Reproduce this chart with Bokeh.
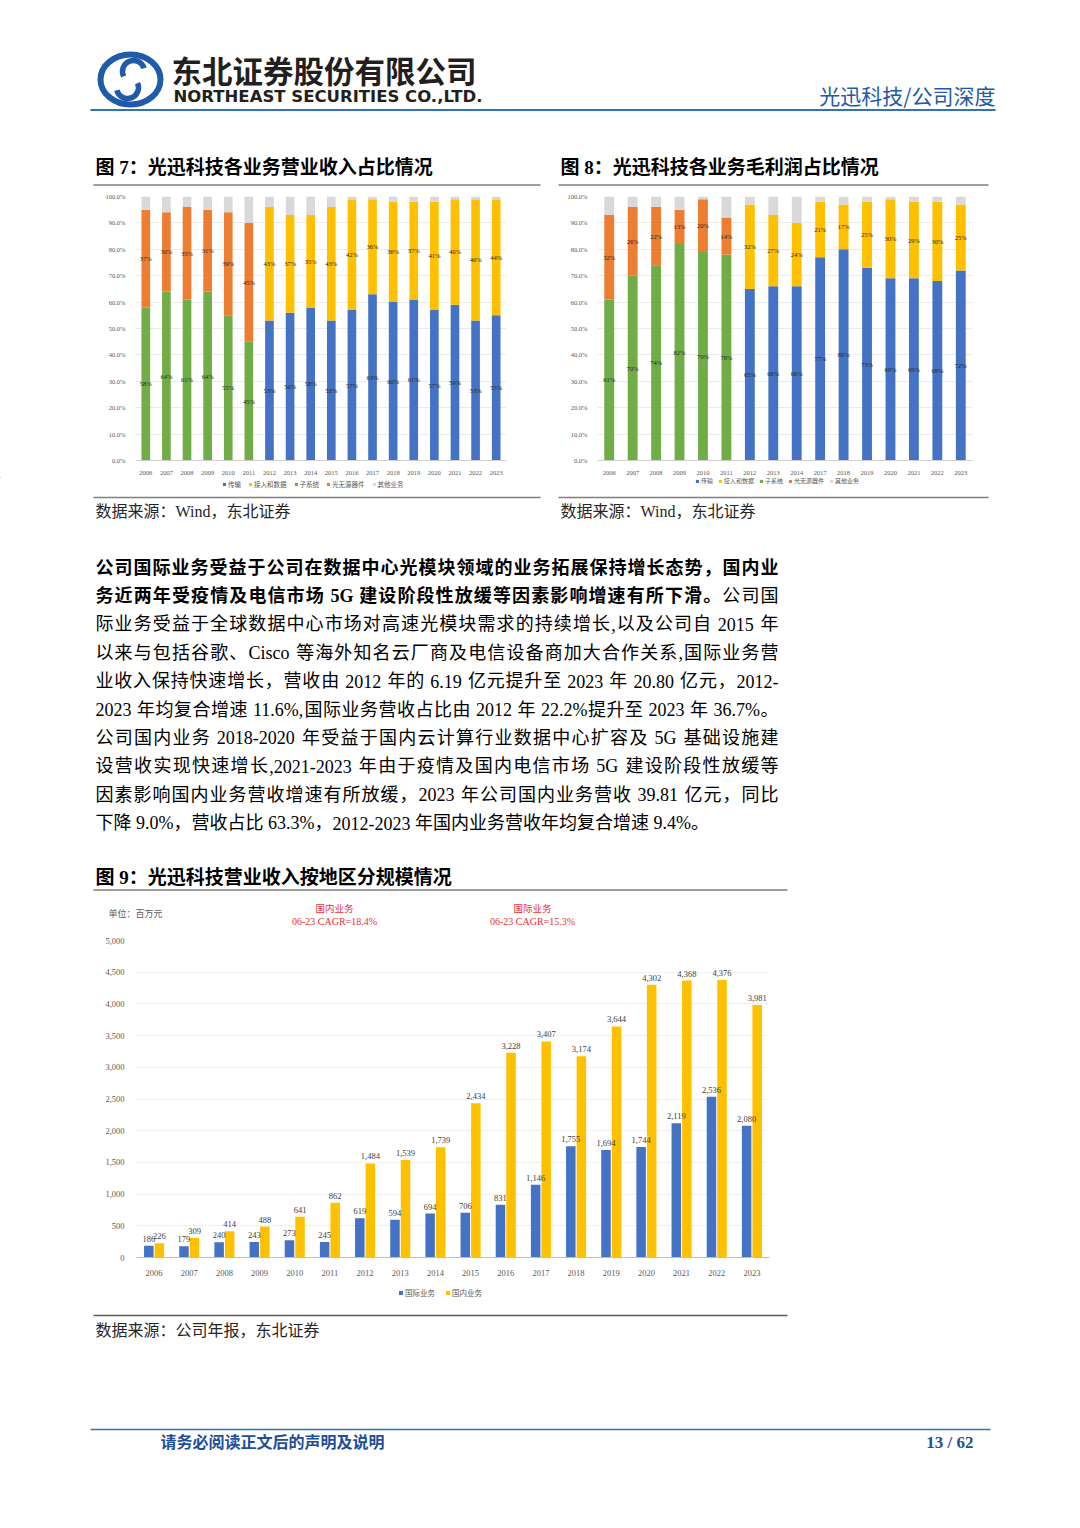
from bokeh.plotting import figure
from bokeh.models import (Range1d, FactorRange, PrintfTickFormatter, NumeralTickFormatter,
                          Legend, LegendItem, ColumnDataSource, FixedTicker, Spacer)
from bokeh.layouts import column, row
from bokeh.transform import dodge
from bokeh.core.properties import value
from bokeh.embed import file_html
from bokeh.resources import INLINE

# ---------------- data ----------------
# Figure 7: revenue share by business (%)
years7 = ["2006", "2007", "2008", "2009", "2010", "2011", "2012", "2013", "2014",
          "2015", "2016", "2017", "2018", "2019", "2020", "2021", "2022", "2023"]
rev_trans = [0, 0, 0, 0, 0, 0, 53, 56, 58, 53, 57, 63, 60, 61, 57, 59, 53, 55]
rev_sub = [58, 64, 61, 64, 55, 45, 0, 0, 0, 0, 0, 0, 0, 0, 0, 0, 0, 0]
rev_access = [0, 0, 0, 0, 0, 0, 43, 37, 35, 43, 42, 36, 38, 37, 41, 40, 46, 44]
rev_passive = [37, 30, 35, 31, 39, 45, 0, 0, 0, 0, 0, 0, 0, 0, 0, 0, 0, 0]
rev_other = [5, 6, 4, 5, 6, 10, 4, 7, 7, 4, 1, 1, 2, 2, 2, 1, 1, 1]

# Figure 8: gross profit share by business (%)
years8 = ["2006", "2007", "2008", "2009", "2010", "2011", "2012", "2013", "2014",
          "2017", "2018", "2019", "2020", "2021", "2022", "2023"]
gp_trans = [0, 0, 0, 0, 0, 0, 65, 66, 66, 77, 80, 73, 69, 69, 68, 72]
gp_sub = [61, 70, 74, 82, 79, 78, 0, 0, 0, 0, 0, 0, 0, 0, 0, 0]
gp_access = [0, 0, 0, 0, 0, 0, 32, 27, 24, 21, 17, 25, 30, 29, 30, 25]
gp_passive = [32, 26, 22, 13, 20, 14, 0, 0, 0, 0, 0, 0, 0, 0, 0, 0]
gp_other = [7, 4, 4, 5, 1, 8, 3, 7, 10, 2, 3, 2, 1, 2, 2, 3]

share_names = ["传输", "子系统", "接入和数据", "光无源器件", "其他业务"]
legend_order = ["传输", "接入和数据", "子系统", "光无源器件", "其他业务"]
pct_ticks = [0, 10, 20, 30, 40, 50, 60, 70, 80, 90, 100]

# Figure 9: revenue by region (RMB mn)
years9 = ["2006", "2007", "2008", "2009", "2010", "2011", "2012", "2013", "2014",
          "2015", "2016", "2017", "2018", "2019", "2020", "2021", "2022", "2023"]
intl = [186, 179, 240, 243, 273, 245, 619, 594, 694, 706, 831, 1146, 1755, 1694, 1744, 2119, 2536, 2080]
dom = [226, 309, 414, 488, 641, 862, 1484, 1539, 1739, 2434, 3228, 3407, 3174, 3644, 4302, 4368, 4376, 3981]
region_names = ["国际业务", "国内业务"]
rev_ticks = [0, 500, 1000, 1500, 2000, 2500, 3000, 3500, 4000, 4500, 5000]

# body text (segments: text, bold)
para_lines = [
    [("公司国际业务受益于公司在数据中心光模块领域的业务拓展保持增长态势，国内业", True)],
    [("务近两年受疫情及电信市场 5G 建设阶段性放缓等因素影响增速有所下滑。", True), ("公司国", False)],
    [("际业务受益于全球数据中心市场对高速光模块需求的持续增长,以及公司自 2015 年", False)],
    [("以来与包括谷歌、Cisco 等海外知名云厂商及电信设备商加大合作关系,国际业务营", False)],
    [("业收入保持快速增长，营收由 2012 年的 6.19 亿元提升至 2023 年 20.80 亿元，2012-", False)],
    [("2023 年均复合增速 11.6%,国际业务营收占比由 2012 年 22.2%提升至 2023 年 36.7%。", False)],
    [("公司国内业务 2018-2020 年受益于国内云计算行业数据中心扩容及 5G 基础设施建", False)],
    [("设营收实现快速增长,2021-2023 年由于疫情及国内电信市场 5G 建设阶段性放缓等", False)],
    [("因素影响国内业务营收增速有所放缓，2023 年公司国内业务营收 39.81 亿元，同比", False)],
    [("下降 9.0%，营收占比 63.3%，2012-2023 年国内业务营收年均复合增速 9.4%。", False)],
]

# ---------------- styles ----------------
SERIF = "Liberation Serif, Noto Sans CJK SC"
CJK = "Noto Sans CJK SC"
BLUE, YELLOW, GREEN, ORANGE, GRAY = "#4472C4", "#FFC000", "#70AD47", "#ED7D31", "#D9D9D9"
share_colors = [BLUE, GREEN, YELLOW, ORANGE, GRAY]
legend_colors = [BLUE, YELLOW, GREEN, ORANGE, GRAY]
HEAD_BLUE = "#1F5BA8"
PAGE_W = 1080

# Times-like advance widths (em) for the Latin characters in the text
LAT_W = {".": 0.25, ",": 0.25, "%": 0.833, "-": 0.333, "C": 0.667, "i": 0.278,
         "s": 0.389, "c": 0.444, "o": 0.5, "G": 0.722}


def strip(y0, y1):
    p = figure(width=PAGE_W, height=y1 - y0, x_range=Range1d(0, PAGE_W), y_range=Range1d(y1, y0),
               output_backend="svg", toolbar_location=None, min_border=0)
    p.axis.visible = False
    p.grid.visible = False
    p.outline_line_color = None
    return p


def txt(p, x, y, s, size, color="#000000", font=SERIF, style="normal", align="left"):
    p.text(x=[x], y=[y], text=[s], text_font=value(font), text_font_size=value(f"{size}px"),
           text_color=color, text_font_style=style, text_align=align, text_baseline="middle")


def hline(p, x0, x1, y, color, w):
    p.segment(x0=[x0], y0=[y], x1=[x1], y1=[y], line_color=color, line_width=w)


def strip_legend(p, names, colors, loc, fsize, gsize, spacing):
    # proxy renderers (off-canvas) that only supply the legend swatches
    rs = [p.vbar(x=[-5000], bottom=[-5000], top=[-5000], width=1, fill_color=c, line_color=None)
          for c in colors]
    items = [LegendItem(label=n, renderers=[r]) for n, r in zip(names, rs)]
    lg = Legend(items=items, orientation="horizontal", location=loc,
                label_text_font=CJK, label_text_font_size=f"{fsize}px", label_text_color="#595959",
                glyph_width=gsize, glyph_height=gsize, label_standoff=2, spacing=spacing,
                padding=0, margin=0, border_line_color=None, background_fill_alpha=0,
                label_height=int(fsize), label_width=0)
    p.add_layout(lg)


def tokens(segments):
    out = []  # (text or None, width_em, bold)
    for text, bold in segments:
        buf = ""
        for ch in text:
            if ord(ch) > 0x2000 or ch == " ":
                if buf:
                    out.append((buf, sum(LAT_W.get(c, 0.5) for c in buf), bold))
                    buf = ""
                out.append((None, 0.25, bold) if ch == " " else (ch, 1.0, bold))
            else:
                buf += ch
        if buf:
            out.append((buf, sum(LAT_W.get(c, 0.5) for c in buf), bold))
    return out


def paragraph(p, lines, x0, x1, y0, lh, fs):
    xs = {True: [], False: []}
    ys = {True: [], False: []}
    ts = {True: [], False: []}
    for k, segs in enumerate(lines):
        tk = tokens(segs)
        natural = sum(w for _, w, _ in tk) * fs
        last = k == len(lines) - 1
        gap = 0 if last else (x1 - x0 - natural) / (len(tk) - 1)
        x = x0
        for t, w, b in tk:
            if t is not None:
                xs[b].append(x)
                ys[b].append(y0 + lh * k)
                ts[b].append(t)
            x += w * fs + gap
    for b in (True, False):
        p.text(x=xs[b], y=ys[b], text=ts[b], text_font=value(SERIF),
               text_font_size=value(f"{fs}px"), text_color="#000000",
               text_font_style="bold" if b else "normal", text_align="left", text_baseline="middle")


def share_chart(years, series, width, bl, br, bt, bb):
    data = {"year": years}
    for n, s in zip(share_names, series):
        data[n] = s
    src = ColumnDataSource(data)
    p = figure(width=width, height=291, x_range=FactorRange(*years), y_range=Range1d(0, 100),
               output_backend="svg", toolbar_location=None,
               min_border_left=bl, min_border_right=br, min_border_top=bt, min_border_bottom=bb)
    p.vbar_stack(share_names, x="year", width=0.42, fill_color=share_colors,
                 line_color=None, source=src)
    # segment labels
    lx, ly, lt = [], [], []
    for i, yr in enumerate(years):
        b = series[0][i] + series[1][i]
        m = series[2][i] + series[3][i]
        lx += [yr, yr]
        ly += [b / 2, b + m / 2]
        lt += [f"{b}%", f"{m}%"]
    p.text(x=lx, y=ly, text=lt, text_font=value(SERIF), text_font_size=value("6.5px"),
           text_color="#262626", text_align="center", text_baseline="middle")
    p.yaxis.ticker = FixedTicker(ticks=pct_ticks)
    p.yaxis.formatter = PrintfTickFormatter(format="%.1f%%")
    p.xgrid.visible = False
    p.ygrid.grid_line_color = "#E3E3E3"
    p.ygrid.grid_line_width = 0.7
    p.yaxis.axis_line_color = None
    p.yaxis.major_tick_line_color = None
    p.yaxis.minor_tick_line_color = None
    p.xaxis.axis_line_color = "#D0D0D0"
    p.xaxis.major_tick_line_color = None
    for ax in (p.xaxis, p.yaxis):
        ax.major_label_text_font = SERIF
        ax.major_label_text_font_size = "6.5px"
        ax.major_label_text_color = "#595959"
        ax.major_label_standoff = 4
    p.outline_line_color = None
    return p


# ---------------- header strip ----------------
sa = strip(0, 186)
sa.ellipse(x=[130], y=[79], width=[60], height=[50], fill_color=None, line_color=HEAD_BLUE, line_width=6)
sa.arc(x=[133], y=[71], radius=11, start_angle=0.3, end_angle=3.6, line_color=HEAD_BLUE, line_width=5.5)
sa.arc(x=[127], y=[87], radius=11, start_angle=3.4, end_angle=6.7, line_color=HEAD_BLUE, line_width=5.5)
txt(sa, 171, 69, "东北证券股份有限公司", 30.5, "#231F20", CJK, "bold")
txt(sa, 173, 95.5, "NORTHEAST SECURITIES CO.,LTD.", 16.5, "#231F20", "DejaVu Sans", "bold")
txt(sa, 995, 94, "光迅科技/公司深度", 21, HEAD_BLUE, CJK, "normal", "right")
hline(sa, 90, 995, 109.5, "#2F75B5", 2)
txt(sa, 95, 167, "图 7：光迅科技各业务营业收入占比情况", 19, "#000000", SERIF, "bold")
txt(sa, 560, 167, "图 8：光迅科技各业务毛利润占比情况", 19, "#000000", SERIF, "bold")
hline(sa, 93, 540, 184.5, "#7F7F7F", 1.5)
hline(sa, 558, 988, 184.5, "#7F7F7F", 1.5)

# ---------------- share charts ----------------
p7 = share_chart(years7, [rev_trans, rev_sub, rev_access, rev_passive, rev_other], 415, 40, 4, 8, 15)
p8 = share_chart(years8, [gp_trans, gp_sub, gp_access, gp_passive, gp_other], 432, 39, 18, 10, 15)

# ---------------- middle strip ----------------
SC0, SC1 = 477, 932
sc = strip(SC0, SC1)
strip_legend(sc, legend_order, legend_colors, (222, SC1 - 488.5), 6.5, 4, 7)
strip_legend(sc, legend_order, legend_colors, (695, SC1 - 485), 6, 4, 5)
hline(sc, 93, 540, 497, "#7F7F7F", 1.5)
hline(sc, 558, 988, 497, "#7F7F7F", 1.5)
txt(sc, 95, 511, "数据来源：Wind，东北证券", 16, "#262626")
txt(sc, 560, 511, "数据来源：Wind，东北证券", 16, "#262626")

paragraph(sc, para_lines, 95, 778, 567, 28.4, 18)

txt(sc, 95, 877, "图 9：光迅科技营业收入按地区分规模情况", 19, "#000000", SERIF, "bold")
hline(sc, 93, 787, 889.5, "#7F7F7F", 1.5)
txt(sc, 108, 913, "单位：百万元", 9, "#595959", CJK)
txt(sc, 334, 907, "国内业务", 9.5, "#E8312F", CJK, "normal", "center")
txt(sc, 334, 921, "06-23 CAGR=18.4%", 10, "#E8312F", SERIF, "normal", "center")
txt(sc, 532, 907, "国际业务", 9.5, "#E8312F", CJK, "normal", "center")
txt(sc, 532, 921, "06-23 CAGR=15.3%", 10, "#E8312F", SERIF, "normal", "center")

# ---------------- region chart ----------------
src9 = ColumnDataSource({"year": years9, "intl": intl, "dom": dom,
                         "intl_t": [f"{v:,}" for v in intl], "dom_t": [f"{v:,}" for v in dom]})
p9 = figure(width=692, height=346, x_range=FactorRange(*years9), y_range=Range1d(0, 5000),
            output_backend="svg", toolbar_location=None,
            min_border_left=41, min_border_right=18, min_border_top=8, min_border_bottom=20)
p9.vbar(x=dodge("year", -0.15, range=p9.x_range), top="intl", width=0.27,
        fill_color=BLUE, line_color=None, source=src9)
p9.vbar(x=dodge("year", 0.15, range=p9.x_range), top="dom", width=0.27,
        fill_color=YELLOW, line_color=None, source=src9)
p9.text(x=dodge("year", -0.15, range=p9.x_range), y="intl", text="intl_t", source=src9,
        text_font=value(SERIF), text_font_size=value("8.5px"), text_color="#404040",
        text_align="center", text_baseline="bottom", y_offset=-4)
p9.text(x=dodge("year", 0.15, range=p9.x_range), y="dom", text="dom_t", source=src9,
        text_font=value(SERIF), text_font_size=value("8.5px"), text_color="#404040",
        text_align="center", text_baseline="bottom", y_offset=-4)
p9.yaxis.ticker = FixedTicker(ticks=rev_ticks)
p9.yaxis.formatter = NumeralTickFormatter(format="0,0")
p9.xgrid.visible = False
p9.ygrid.grid_line_color = "#D9D9D9"
p9.ygrid.grid_line_dash = "2 2"
p9.ygrid.grid_line_width = 0.8
p9.yaxis.axis_line_color = None
p9.yaxis.major_tick_line_color = None
p9.yaxis.minor_tick_line_color = None
p9.xaxis.axis_line_color = "#BFBFBF"
p9.xaxis.major_tick_line_color = None
for ax in (p9.xaxis, p9.yaxis):
    ax.major_label_text_font = SERIF
    ax.major_label_text_font_size = "8.5px"
    ax.major_label_text_color = "#595959"
    ax.major_label_standoff = 6
p9.outline_line_color = None

# ---------------- bottom strip ----------------
SE0, SE1 = 1278, 1528
se = strip(SE0, SE1)
strip_legend(se, region_names, [BLUE, YELLOW], (398, SE1 - 1297.5), 7.5, 5, 10)
hline(se, 93, 787, 1315, "#595959", 1.5)
txt(se, 95, 1330, "数据来源：公司年报，东北证券", 16, "#262626")
hline(se, 90, 990, 1429, "#2F75B5", 1.5)
txt(se, 160, 1442, "请务必阅读正文后的声明及说明", 16, "#1F4E9A", SERIF, "bold")
txt(se, 973, 1442, "13 / 62", 17, "#1F4E9A", SERIF, "bold", "right")

layout = column(
    sa,
    row(Spacer(width=95, height=291), p7, Spacer(width=48, height=291), p8, Spacer(width=90, height=291)),
    sc,
    row(Spacer(width=95, height=346), p9, Spacer(width=293, height=346)),
    se,
)

open("out.html", "w").write(file_html(layout, INLINE))
